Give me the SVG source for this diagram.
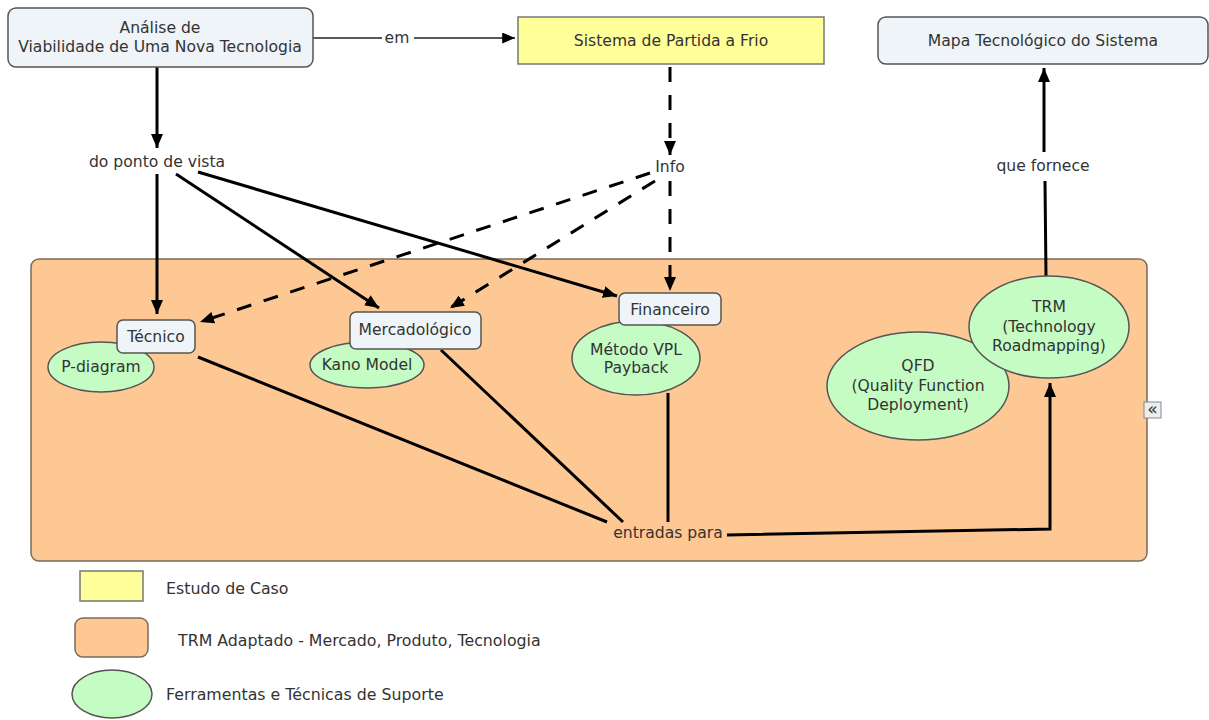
<svg xmlns="http://www.w3.org/2000/svg" width="1209" height="720" viewBox="0 0 1209 720">
  <style>
    text { font-family: "DejaVu Sans", Verdana, sans-serif; font-size: 15.6px; fill: #333; text-anchor: middle; dominant-baseline: central; }
    .concept { fill: #eef4f7; stroke: #555; stroke-width: 1.5; }
    .case { fill: #ffff99; stroke: #777; stroke-width: 1.5; }
    .trm { fill: #fec894; stroke: #7a6a5a; stroke-width: 1.5; }
    .tool { fill: #c4fcc4; stroke: #555; stroke-width: 1.5; }
    .link { fill: none; stroke: #000; stroke-width: 3; }
    .thin { fill: none; stroke: #222; stroke-width: 1.5; }
    .dash { stroke-dasharray: 15 13; }
    .legend { text-anchor: start; font-size: 15.8px; }
  </style>
  <defs>
    <marker id="arrow" viewBox="0 0 14 12" refX="14" refY="6" markerWidth="14" markerHeight="12" markerUnits="userSpaceOnUse" orient="auto">
      <path d="M0,0 L14,6 L0,12 z" fill="#000"/>
    </marker>
    <marker id="arrowSmall" viewBox="0 0 14 12" refX="14" refY="6" markerWidth="13" markerHeight="11" markerUnits="userSpaceOnUse" orient="auto">
      <path d="M0,0 L14,6 L0,12 z" fill="#000"/>
    </marker>
  </defs>

  <!-- container: adapted TRM -->
  <g id="trm-adaptado">
    <rect class="trm" x="31" y="259" width="1116" height="302" rx="8"/>
    <g id="collapse-icon">
      <rect x="1144" y="402" width="17" height="16" fill="#eee" stroke="#888" stroke-width="1"/>
      <text x="1152.5" y="409" style="font-size:17px;fill:#333">«</text>
    </g>
  </g>

  <!-- connectors -->
  <g id="connectors">
    <path class="link" d="M157,67 L157,148" marker-end="url(#arrow)"/>
    <path class="thin" d="M313,38 L382,38"/>
    <path class="thin" d="M414,38 L515,38" marker-end="url(#arrowSmall)"/>
    <path class="link dash" d="M670,67 L670,155" marker-end="url(#arrow)"/>
    <path class="link" d="M157,174 L157,314" marker-end="url(#arrow)"/>
    <path class="link" d="M176,174 L379,308" marker-end="url(#arrow)"/>
    <path class="link" d="M198,172 L617,296" marker-end="url(#arrow)"/>
    <path class="link dash" d="M650,173 L200,322" marker-end="url(#arrow)"/>
    <path class="link dash" d="M655,181 L450,308" marker-end="url(#arrow)"/>
    <path class="link dash" d="M670,181 L670,291" marker-end="url(#arrow)"/>
    <path class="link" d="M198,357 L607,522"/>
    <path class="link" d="M441,350 L623,522"/>
    <path class="link" d="M668,393 L668,522"/>
    <path class="link" d="M727,535 L1050,529 L1050,383" marker-end="url(#arrow)"/>
    <path class="link" d="M1046,276 L1045,181"/>
    <path class="link" d="M1044,152 L1044,68" marker-end="url(#arrow)"/>
  </g>

  <!-- linking phrases -->
  <g id="labels">
    <text x="397" y="38">em</text>
    <text x="157" y="162">do ponto de vista</text>
    <text x="670" y="167">Info</text>
    <text x="668" y="533">entradas para</text>
    <text x="1043" y="166">que fornece</text>
  </g>

  <g id="analise">
    <rect class="concept" x="8" y="8" width="305" height="59" rx="8"/>
    <text x="160" y="28">Análise de</text>
    <text x="160" y="47">Viabilidade de Uma Nova Tecnologia</text>
  </g>

  <g id="sistema">
    <rect class="case" x="518" y="17" width="306" height="47"/>
    <text x="671" y="41">Sistema de Partida a Frio</text>
  </g>

  <g id="mapa">
    <rect class="concept" x="878" y="17" width="330" height="47" rx="8"/>
    <text x="1043" y="41">Mapa Tecnológico do Sistema</text>
  </g>

  <g id="p-diagram">
    <ellipse class="tool" cx="101" cy="367" rx="53" ry="25"/>
    <text x="101" y="367">P-diagram</text>
  </g>

  <g id="tecnico">
    <rect class="concept" x="117" y="320" width="78" height="33" rx="6"/>
    <text x="156" y="337">Técnico</text>
  </g>

  <g id="kano">
    <ellipse class="tool" cx="367" cy="365" rx="57" ry="23"/>
    <text x="367" y="365">Kano Model</text>
  </g>

  <g id="mercadologico">
    <rect class="concept" x="350" y="312" width="131" height="37" rx="6"/>
    <text x="415" y="330">Mercadológico</text>
  </g>

  <g id="vpl">
    <ellipse class="tool" cx="636" cy="358" rx="64" ry="37"/>
    <text x="636" y="350">Método VPL</text>
    <text x="636" y="368">Payback</text>
  </g>

  <g id="financeiro">
    <rect class="concept" x="619" y="293" width="102" height="32" rx="6"/>
    <text x="670" y="310">Financeiro</text>
  </g>

  <g id="qfd">
    <ellipse class="tool" cx="918" cy="386" rx="91" ry="54"/>
    <text x="918" y="366">QFD</text>
    <text x="918" y="386">(Quality Function</text>
    <text x="918" y="405">Deployment)</text>
  </g>

  <g id="trm">
    <ellipse class="tool" cx="1049" cy="327" rx="80" ry="51"/>
    <text x="1049" y="307">TRM</text>
    <text x="1049" y="327">(Technology</text>
    <text x="1049" y="346">Roadmapping)</text>
  </g>

  <!-- key -->
  <g id="legend">
    <rect class="case" x="80" y="571" width="63" height="30"/>
    <text class="legend" x="166" y="588">Estudo de Caso</text>
    <rect class="trm" x="75" y="618" width="73" height="39" rx="8"/>
    <text class="legend" x="178" y="640">TRM Adaptado - Mercado, Produto, Tecnologia</text>
    <ellipse class="tool" cx="112" cy="694" rx="40" ry="24"/>
    <text class="legend" x="166" y="694">Ferramentas e Técnicas de Suporte</text>
  </g>
</svg>
